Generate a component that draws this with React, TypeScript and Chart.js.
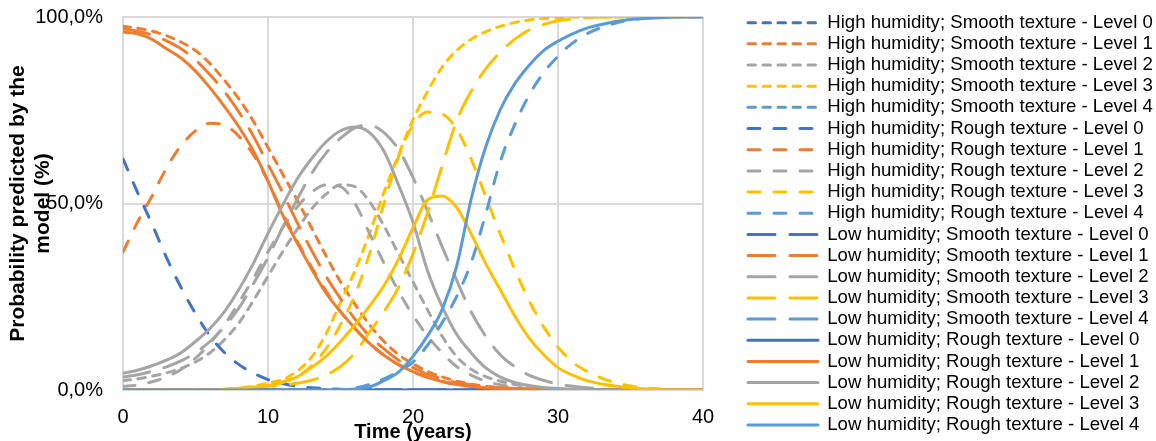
import React, { useEffect, useRef } from 'react';
import { Chart, registerables } from 'chart.js';

Chart.register(...registerables);

const years = [0, 1, 2, 3, 4, 5, 6, 7, 8, 9, 10, 11, 12, 13, 14, 15, 16, 17, 18, 19, 20, 21, 22, 23, 24, 25, 26, 27, 28, 29, 30, 31, 32, 33, 34, 35, 36, 37, 38, 39, 40];

const yTicks = [0, 50, 100];
const xTicks = [0, 10, 20, 30, 40];

// Level never reached / negligible under this condition
const noLevel = [0, 0, 0, 0, 0, 0, 0, 0, 0, 0, 0, 0, 0, 0, 0, 0, 0, 0, 0, 0, 0, 0, 0, 0, 0, 0, 0, 0, 0, 0, 0, 0, 0, 0, 0, 0, 0, 0, 0, 0, 0];

// High humidity; Smooth texture
const hsL0 = noLevel;
const hsL1 = [97.5, 97, 96.2, 95, 93.3, 91, 87.5, 83, 78, 72, 65, 58, 51, 43.5, 36, 29, 23, 17.5, 13, 9.5, 7, 5, 3.5, 2.4, 1.6, 1, 0.7, 0.4, 0.25, 0.15, 0.1, 0, 0, 0, 0, 0, 0, 0, 0, 0, 0];
const hsL2 = [2.5, 3, 3.7, 4.6, 5.8, 7.5, 10, 13.5, 18, 24, 30.5, 37, 43, 48.5, 52.5, 55, 54.5, 50.5, 44, 36.5, 29, 21.5, 14.5, 9, 5.6, 3.6, 2.4, 1.5, 0.9, 0.5, 0.3, 0.15, 0, 0, 0, 0, 0, 0, 0, 0, 0];
const hsL3 = [0, 0, 0, 0, 0, 0, 0, 0.2, 0.5, 1, 1.9, 2.8, 5, 8.8, 15, 23.5, 32, 42, 53, 63, 72.5, 80, 86.5, 91, 94, 96, 97.5, 98.5, 99.2, 99.6, 99.8, 100, 100, 100, 100, 100, 100, 100, 100, 100, 100];
const hsL4 = noLevel;

// High humidity; Rough texture
const hrL0 = [62, 53, 44.5, 35.5, 27.5, 20.5, 14.5, 10, 6.8, 4.5, 2.8, 1.7, 1, 0.6, 0.35, 0.2, 0.1, 0, 0, 0, 0, 0, 0, 0, 0, 0, 0, 0, 0, 0, 0, 0, 0, 0, 0, 0, 0, 0, 0, 0, 0];
const hrL1 = [37, 45, 52, 59.5, 65.5, 69.5, 71.5, 71, 68, 63, 56, 47.5, 40, 33, 26.5, 21, 16.5, 12.5, 9.3, 6.8, 4.9, 3.4, 2.3, 1.5, 1, 0.6, 0.4, 0.25, 0.15, 0.1, 0, 0, 0, 0, 0, 0, 0, 0, 0, 0, 0];
const hrL2 = [1, 1.3, 2.2, 3.5, 5.5, 8.5, 12.5, 17.5, 23.5, 30, 37, 43.5, 49, 53, 55, 54.5, 50, 42, 34, 26.5, 20, 14.5, 10, 6.3, 4, 2.4, 1.4, 0.8, 0.4, 0.2, 0.1, 0, 0, 0, 0, 0, 0, 0, 0, 0, 0];
const hrL3 = [0, 0, 0, 0, 0, 0, 0, 0.2, 0.4, 0.7, 1.2, 2, 3.5, 6.5, 11, 17.5, 25.5, 36.5, 50, 62.5, 71, 74.5, 74, 70, 62, 52, 42, 32.5, 24, 17, 11.5, 7.5, 5, 3.2, 1.9, 1.1, 0.6, 0.3, 0.15, 0, 0];
const hrL4 = [0, 0, 0, 0, 0, 0, 0, 0, 0, 0, 0, 0, 0, 0, 0, 0, 0.5, 1.5, 3, 5, 7.5, 12, 18, 25, 34, 47, 61, 71, 79, 85, 89.5, 93, 95.5, 97.2, 98.4, 99.2, 99.7, 99.9, 100, 100, 100];

// Low humidity; Smooth texture
const lsL0 = noLevel;
const lsL1 = [96.8, 96.2, 95.2, 93.6, 91.5, 88.5, 84.5, 80, 74.5, 68, 60.5, 53, 45, 37.5, 30.5, 24.5, 19, 14.5, 11, 8, 6, 4.2, 3, 2, 1.4, 1, 0.6, 0.4, 0.25, 0.15, 0.1, 0, 0, 0, 0, 0, 0, 0, 0, 0, 0];
const lsL2 = [3.5, 4.1, 5, 6.2, 7.8, 10, 13, 17, 22, 28.5, 35.5, 43.5, 51, 58, 63.5, 67.5, 70.3, 71, 69, 64.5, 57, 48, 38.5, 29.5, 21, 14.5, 9.5, 6.3, 4, 2.6, 1.6, 1, 0.6, 0.3, 0.15, 0, 0, 0, 0, 0, 0];
const lsL3 = [0, 0, 0, 0, 0, 0, 0, 0, 0.3, 0.6, 1, 1.3, 1.8, 2.6, 4, 6.3, 10, 15.5, 21, 27.5, 36.5, 47.5, 60, 72, 80, 86, 90.5, 94, 96.5, 98, 99, 99.5, 99.8, 100, 100, 100, 100, 100, 100, 100, 100];
const lsL4 = noLevel;

// Low humidity; Rough texture
const lrL0 = noLevel;
const lrL1 = [96, 95.5, 94, 91.5, 89, 85.5, 81, 76, 70.5, 64, 56, 47, 39.5, 32.5, 26, 21, 16.5, 12.5, 9.3, 6.8, 4.9, 3.4, 2.3, 1.5, 1, 0.6, 0.4, 0.25, 0.15, 0.1, 0, 0, 0, 0, 0, 0, 0, 0, 0, 0, 0];
const lrL2 = [4.5, 5.3, 6.5, 8, 10, 13, 16.5, 21, 27, 34, 42, 49.5, 56.5, 62, 66.5, 69.5, 70.5, 69, 64, 55, 45, 32, 22.5, 15, 10, 6, 3.5, 2, 1.2, 0.7, 0.4, 0.2, 0.1, 0, 0, 0, 0, 0, 0, 0, 0];
const lrL3 = [0, 0, 0, 0, 0, 0, 0, 0.2, 0.5, 0.8, 1.2, 2.2, 3.5, 6, 9, 13, 17.5, 22.5, 28, 35, 43.5, 51, 52, 49, 42, 34, 27, 20, 14, 9.5, 6, 4, 2.5, 1.6, 1, 0.6, 0.3, 0.1, 0, 0, 0];
const lrL4 = [0, 0, 0, 0, 0, 0, 0, 0, 0, 0, 0, 0, 0, 0, 0, 0.1, 0.3, 0.8, 2.5, 4.8, 9, 14.5, 21.5, 33, 51, 65, 75, 82, 87, 91, 93.5, 95.5, 97, 98, 98.8, 99.3, 99.6, 99.8, 100, 100, 100];

const conditions = ['High humidity; Smooth texture', 'High humidity; Rough texture', 'Low humidity; Smooth texture', 'Low humidity; Rough texture'];
const levels = ['Level 0', 'Level 1', 'Level 2', 'Level 3', 'Level 4'];
const seriesValues = [
  [hsL0, hsL1, hsL2, hsL3, hsL4],
  [hrL0, hrL1, hrL2, hrL3, hrL4],
  [lsL0, lsL1, lsL2, lsL3, lsL4],
  [lrL0, lrL1, lrL2, lrL3, lrL4],
];

const levelColors = ['#4472C4', '#ED7D31', '#A5A5A5', '#FFC000', '#5B9BD5'];
const conditionDashes = [[7.5, 7.5], [12, 14], [27, 15], []];

const FONT = '"Liberation Sans", Arial, Helvetica, sans-serif';

export default function App() {
  const ref = useRef<HTMLCanvasElement>(null);

  useEffect(() => {
    const canvas = ref.current;
    if (!canvas) return;
    Chart.defaults.font.family = FONT;

    const datasets: any[] = [];
    conditions.forEach((cond, c) => {
      levels.forEach((lev, l) => {
        const i = c * 5 + l;
        datasets.push({
          label: `${cond} - ${lev}`,
          data: years.map((t, k) => ({ x: t, y: seriesValues[c][l][k] })),
          borderColor: levelColors[l],
          backgroundColor: levelColors[l],
          borderWidth: 3,
          borderDash: conditionDashes[c],
          borderCapStyle: 'round',
          borderJoinStyle: 'round',
          pointRadius: 0,
          pointHoverRadius: 0,
          pointStyle: 'line',
          fill: false,
          cubicInterpolationMode: 'monotone',
          order: 20 - i,
        });
      });
    });

    const defaultLabels = (Chart.defaults as any).plugins.legend.labels.generateLabels;

    const chart = new Chart(canvas, {
      type: 'line',
      data: { datasets },
      options: {
        animation: false,
        responsive: false,
        maintainAspectRatio: false,
        devicePixelRatio: 1,
        layout: { padding: { top: 6.6, right: -10, left: 0, bottom: 0 } },
        plugins: {
          tooltip: { enabled: false },
          legend: {
            display: true,
            position: 'right',
            align: 'center',
            maxWidth: 600,
            labels: {
              usePointStyle: true,
              pointStyleWidth: 70,
              padding: 2.57,
              color: '#000',
              font: { size: 18.6, family: FONT },
              generateLabels: (ch: any) => {
                const items = defaultLabels(ch);
                return items.map((it: any) => {
                  const ds = ch.data.datasets[it.datasetIndex];
                  return {
                    ...it,
                    pointStyle: 'line',
                    lineDash: ds.borderDash,
                    lineWidth: ds.borderWidth,
                    lineCap: ds.borderCapStyle,
                    strokeStyle: ds.borderColor,
                    fillStyle: ds.borderColor,
                  };
                });
              },
              sort: (a: any, b: any) => a.datasetIndex - b.datasetIndex,
            },
          },
        },
        scales: {
          x: {
            type: 'linear',
            min: 0,
            max: 40,
            afterBuildTicks: (s: any) => { s.ticks = xTicks.map((v) => ({ value: v })); },
            ticks: { padding: 15, color: '#000', font: { size: 20, family: FONT }, callback: (v: any) => String(v) },
            grid: { color: '#d9d9d9', lineWidth: 2, drawTicks: false },
            border: { display: true, color: '#d9d9d9', width: 2 },
            title: { display: true, text: 'Time (years)', color: '#000', font: { size: 20, weight: 'bold', family: FONT }, padding: { top: 0, bottom: -3 } },
            afterFit: (s: any) => { s.height = 51; s.paddingRight = 453; },
          },
          y: {
            type: 'linear',
            position: 'left',
            min: 0,
            max: 100,
            afterBuildTicks: (s: any) => { s.ticks = yTicks.map((v) => ({ value: v })); },
            ticks: { padding: 20, color: '#000', font: { size: 20, family: FONT }, callback: (v: any) => Number(v).toFixed(1).replace('.', ',') + '%' },
            grid: { color: '#d9d9d9', lineWidth: 2, drawTicks: false },
            border: { display: true, color: '#d9d9d9', width: 2 },
            title: { display: true, text: ['Probability predicted by the', 'model (%)'], color: '#000', font: { size: 21, weight: 'bold', family: FONT }, padding: { top: 5.4, bottom: 0 } },
            afterFit: (s: any) => { s.width = 123; s.paddingTop = 17; },
          },
          y2: {
            type: 'linear',
            position: 'right',
            display: true,
            grid: { display: false, drawTicks: false },
            border: { display: false },
            ticks: { display: false },
            afterFit: (s: any) => { s.width = 42.4; s.paddingTop = 0; s.paddingBottom = 0; },
          },
        },
      } as any,
    });
    return () => chart.destroy();
  }, []);

  return (
    <div style={{ position: 'fixed', left: 0, top: 0, width: 1156, height: 441, background: '#fff', overflow: 'hidden' }}>
      <canvas ref={ref} width={1156} height={441} style={{ display: 'block', width: 1156, height: 441 }} />
    </div>
  );
}
